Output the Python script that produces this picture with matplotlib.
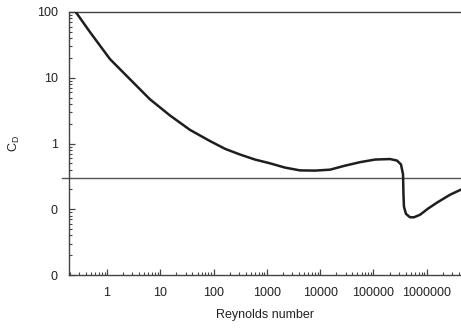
import numpy as np
import matplotlib
matplotlib.use("Agg")
import matplotlib.pyplot as plt
from matplotlib.ticker import FuncFormatter, LogLocator

plt.rcParams['font.family'] = ['Liberation Sans', 'DejaVu Sans']

# Data (Reynolds number vs drag coefficient)
reynolds = [0.26, 0.48, 1.14, 2.70, 6.41, 15.2, 36.1, 85.6, 164, 313, 598,
            1140, 2190, 4180, 7990, 15300, 29200, 55800, 107000, 204000,
            276000, 328000, 358000, 365000, 373000, 407000, 484000, 575000,
            745000, 1.05e6, 1.55e6, 2.72e6, 4.38e6]
drag_coef = [100, 49.5, 19.2, 9.5, 4.70, 2.67, 1.61, 1.09, 0.83, 0.68, 0.57,
             0.50, 0.43, 0.39, 0.387, 0.40, 0.46, 0.52, 0.57, 0.58,
             0.55, 0.48, 0.34, 0.166, 0.109, 0.085, 0.0755, 0.0755,
             0.0824, 0.102, 0.126, 0.166, 0.199]
ref_line = 0.3
x_ticks = [1, 10, 100, 1000, 10000, 100000, 1000000]
x_tick_labels = ["1", "10", "100", "1000", "10000", "100000", "1000000"]
y_ticks = [0.01, 0.1, 1, 10, 100]

W, H = 461, 328
fig = plt.figure(figsize=(W / 100, H / 100), dpi=100)
ax = fig.add_axes([69 / W, 1 - 275 / H, (W - 69) / W, 263 / H])

ax.plot(reynolds, drag_coef, color='#1e1e1e', lw=1.8, solid_capstyle='round',
        solid_joinstyle='round', zorder=3)
ax.set_xscale('log')
ax.set_yscale('log')
ax.set_xlim(0.194, 4.38e6)
ax.set_ylim(0.01, 100)

ax.plot([-0.018, 1], [ref_line, ref_line], transform=ax.get_yaxis_transform(),
        color='#555555', lw=1.0, clip_on=False)

ax.spines['right'].set_visible(False)
for s in ['left', 'bottom', 'top']:
    ax.spines[s].set_color('#444444')
    ax.spines[s].set_linewidth(1.0)

ax.set_xticks(x_ticks)
ax.set_xticklabels(x_tick_labels)
ax.set_yticks(y_ticks)
ax.yaxis.set_major_formatter(FuncFormatter(lambda v, p: f"{v:.0f}"))
ax.xaxis.set_minor_locator(LogLocator(base=10, subs=np.arange(2, 10)))
ax.yaxis.set_minor_locator(LogLocator(base=10, subs=np.arange(2, 10)))
ax.xaxis.set_minor_formatter(FuncFormatter(lambda v, p: ""))
ax.yaxis.set_minor_formatter(FuncFormatter(lambda v, p: ""))

ax.tick_params(which='major', direction='in', length=4, width=0.9, color='#444444',
               labelsize=9, labelcolor='#222222')
ax.tick_params(which='minor', direction='in', length=2.5, width=0.8, color='#444444')
ax.tick_params(axis='x', which='both', top=False, pad=9)
ax.tick_params(axis='y', which='both', right=False, pad=8)

ax.set_xlabel('Reynolds number', fontsize=9, color='#222222')
ax.xaxis.set_label_coords(0.5, -0.13)
ax.set_ylabel(r'C$_\mathregular{D}$', fontsize=9, color='#222222')
ax.yaxis.set_label_coords(-0.12, 0.5)

fig.savefig('out.png', dpi=100)
